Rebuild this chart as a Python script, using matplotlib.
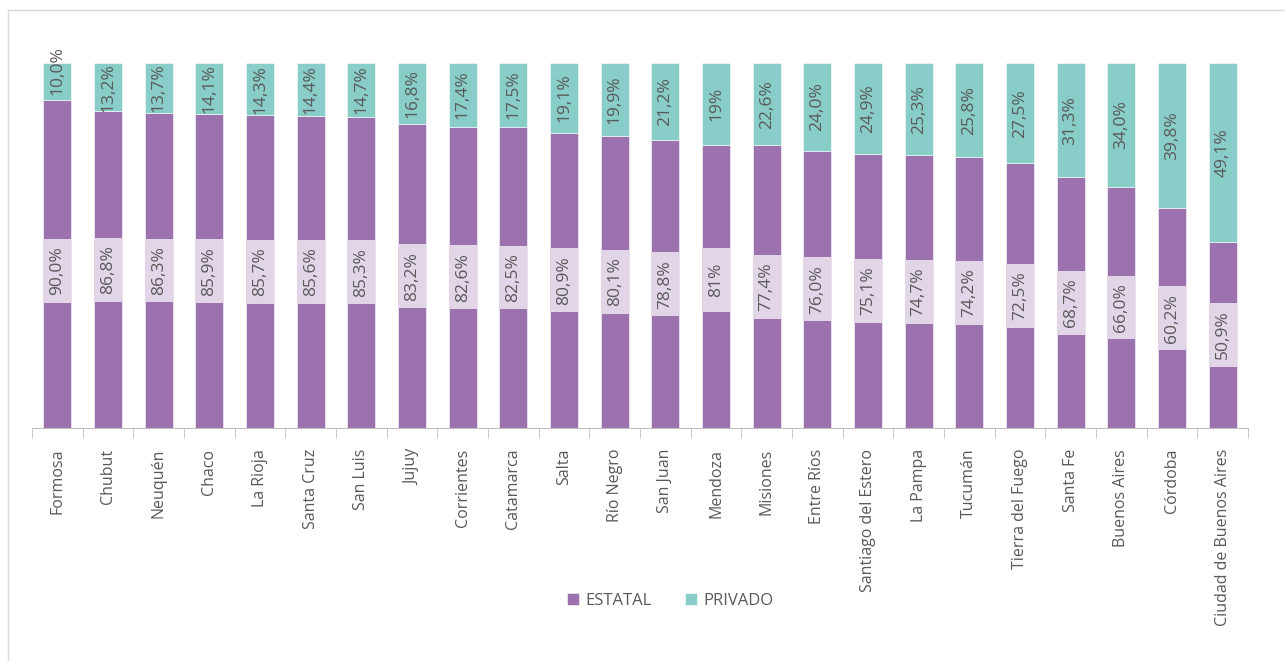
import matplotlib
matplotlib.use('Agg')
import matplotlib.pyplot as plt
from matplotlib.lines import Line2D
import numpy as np

provincias = ['Formosa', 'Chubut', 'Neuquén', 'Chaco', 'La Rioja', 'Santa Cruz',
              'San Luis', 'Jujuy', 'Corrientes', 'Catamarca', 'Salta', 'Río Negro',
              'San Juan', 'Mendoza', 'Misiones', 'Entre Ríos', 'Santiago del Estero',
              'La Pampa', 'Tucumán', 'Tierra del Fuego', 'Santa Fe', 'Buenos Aires',
              'Córdoba', 'Ciudad de Buenos Aires']

# bar heights as drawn (Mendoza bar is drawn ~77.5 although labelled 81%)
estatal = [90.0, 86.8, 86.3, 85.9, 85.7, 85.6, 85.3, 83.2, 82.6, 82.5, 80.9, 80.1,
           78.8, 77.5, 77.4, 76.0, 75.1, 74.7, 74.2, 72.5, 68.7, 66.0, 60.2, 50.9]
privado = [10.0, 13.2, 13.7, 14.1, 14.3, 14.4, 14.7, 16.8, 17.4, 17.5, 19.1, 19.9,
           21.2, 22.5, 22.6, 24.0, 24.9, 25.3, 25.8, 27.5, 31.3, 34.0, 39.8, 49.1]

# data label texts as printed
estatal_lbl = ['90,0%', '86,8%', '86,3%', '85,9%', '85,7%', '85,6%', '85,3%', '83,2%',
               '82,6%', '82,5%', '80,9%', '80,1%', '78,8%', '81%', '77,4%', '76,0%',
               '75,1%', '74,7%', '74,2%', '72,5%', '68,7%', '66,0%', '60,2%', '50,9%']
privado_lbl = ['10,0%', '13,2%', '13,7%', '14,1%', '14,3%', '14,4%', '14,7%', '16,8%',
               '17,4%', '17,5%', '19,1%', '19,9%', '21,2%', '19%', '22,6%', '24,0%',
               '24,9%', '25,3%', '25,8%', '27,5%', '31,3%', '34,0%', '39,8%', '49,1%']

purple = '#9b72ae'
teal = '#88cdc7'
lavender = '#e2d5e8'
txt = '#595959'

plt.rcParams['font.family'] = ['Open Sans', 'DejaVu Sans']

fig = plt.figure(figsize=(12.85, 6.61), dpi=100)
ax = fig.add_axes([32/1285, 1 - 428/661, (1248-32)/1285, (428-63)/661])

x = np.arange(len(provincias))
w = 0.55
box_h = 17.5  # height of the label fill box, in % units
ax.bar(x, estatal, w, color=purple, label='ESTATAL', edgecolor='white', linewidth=0.4)
ax.bar(x, privado, w, bottom=estatal, color=teal, label='PRIVADO', edgecolor='white', linewidth=0.4)

for i in range(len(x)):
    # label sits a bit above the middle when the bar is very tall
    ylab = max(estatal[i], float(estatal_lbl[i].rstrip('%').replace(',', '.'))) / 2
    if estatal[i] >= 88:
        ylab -= 2
    ax.bar(x[i], box_h, w, bottom=ylab - box_h / 2, color=lavender, edgecolor='none')
    ax.text(x[i], ylab, estatal_lbl[i], rotation=90, ha='center', va='center',
            fontsize=12.5, color=txt)
    ypos = estatal[i] + privado[i] / 2
    if privado[i] < 12:
        ypos += 3
    ax.text(x[i], ypos, privado_lbl[i], rotation=90, ha='center', va='center',
            fontsize=12.5, color=txt, clip_on=False)

ax.set_xlim(-0.5, len(x) - 0.5)
ax.set_ylim(0, 100)
ax.set_yticks([])
for s in ['top', 'right', 'left']:
    ax.spines[s].set_visible(False)
ax.spines['bottom'].set_color('#bfbfbf')

ax.set_xticks(x)
ax.set_xticklabels(provincias, rotation=90, fontsize=11.5, color=txt)
ax.tick_params(axis='x', which='major', length=0, pad=15)
ax.set_xticks(np.arange(len(x) + 1) - 0.5, minor=True)
ax.tick_params(axis='x', which='minor', length=7, color='#bfbfbf')

ax.legend(loc='center', bbox_to_anchor=(670/1285, 1 - 601/661), bbox_transform=fig.transFigure,
          ncol=2, frameon=False, fontsize=12, labelcolor=txt, handlelength=0.75,
          handleheight=0.75, columnspacing=2.0, handletextpad=0.35)

# outer chart frame
fig.add_artist(Line2D([8/1285, 1], [1 - 10/661, 1 - 10/661], color='#d9d9d9', lw=1))
fig.add_artist(Line2D([8/1285, 8/1285], [0, 1 - 10/661], color='#d9d9d9', lw=1))

fig.savefig('out.png', dpi=100)
